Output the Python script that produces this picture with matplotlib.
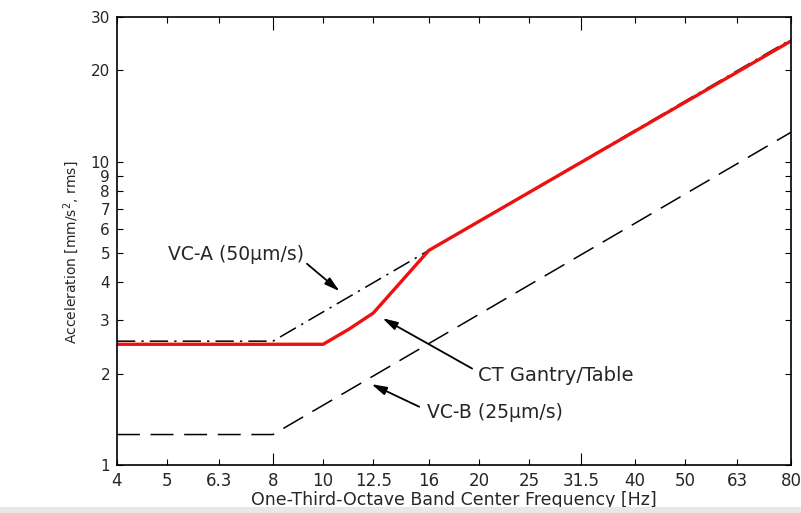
import matplotlib.pyplot as plt
from matplotlib.patches import Rectangle
import numpy as np

plt.rcParams['font.family'] = ['DejaVu Sans']

# one-third octave band centres [Hz]
freq_ticks = [4, 5, 6.3, 8, 10, 12.5, 16, 20, 25, 31.5, 40, 50, 63, 80]
acc_ticks = [1, 2, 3, 4, 5, 6, 7, 8, 9, 10, 20, 30]

# criterion curves (acceleration, mm/s^2 rms)
vca_f = [4, 8, 80]
vca_a = [2.56, 2.56, 25.3]
vcb_f = [4, 8, 80]
vcb_a = [1.26, 1.26, 12.5]
ct_f = [4, 10, 11.2, 12.5, 16, 80]
ct_a = [2.5, 2.5, 2.8, 3.17, 5.1, 25.0]

txt = '#262626'

fig = plt.figure(figsize=(8.01, 5.13), dpi=100)
ax = fig.add_axes([0.146, 0.0936, 0.8415, 0.8733])

ax.plot(vca_f, vca_a, color='k', linestyle=(0, (12, 4, 1.5, 4)), linewidth=1.1)
ax.plot(vcb_f, vcb_a, color='k', linestyle=(0, (15, 7)), linewidth=1.1)
ax.plot(ct_f, ct_a, color='#ee1111', linewidth=2.4, solid_joinstyle='round')

ax.set_xscale('log')
ax.set_yscale('log')
ax.set_xlim(4, 80)
ax.set_ylim(1, 30)
ax.set_xticks(freq_ticks)
ax.set_xticklabels([str(f) for f in freq_ticks])
ax.set_yticks(acc_ticks)
ax.set_yticklabels([str(a) for a in acc_ticks])
ax.minorticks_off()
ax.tick_params(direction='in', top=True, right=True, length=4, width=0.8,
               labelcolor=txt)
ax.tick_params(axis='x', labelsize=12, pad=5)
ax.tick_params(axis='y', labelsize=11, pad=5)
for t in ax.xaxis.get_major_ticks():
    if t.get_loc() in (8, 31.5):
        t.tick1line.set_markersize(9)
        t.tick2line.set_markersize(9)

for s in ax.spines.values():
    s.set_linewidth(1.2)

ax.set_xlabel('One-Third-Octave Band Center Frequency [Hz]', fontsize=12.5,
              color=txt, labelpad=1)
ax.set_ylabel('Acceleration [mm/s$^2$, rms]', fontsize=10, color=txt)
ax.yaxis.set_label_coords(-0.053, 0.475)

arrow = dict(arrowstyle='-|>,head_length=0.9,head_width=0.25', color='k', lw=1.3)
ax.text(5.02, 4.93, 'VC-A (50μm/s)', fontsize=13.5, color=txt, ha='left', va='center')
ax.annotate('', xy=(10.86, 3.69), xytext=(9.22, 4.67), arrowprops=arrow)
ax.text(19.9, 1.966, 'CT Gantry/Table', fontsize=14, color=txt, ha='left', va='center')
ax.annotate('', xy=(12.88, 3.08), xytext=(19.6, 2.058), arrowprops=arrow)
ax.text(15.9, 1.485, 'VC-B (25μm/s)', fontsize=13.5, color=txt, ha='left', va='center')
ax.annotate('', xy=(12.26, 1.864), xytext=(15.5, 1.542), arrowprops=arrow)

fig.add_artist(Rectangle((0, 0), 1, 0.012, transform=fig.transFigure,
                         facecolor='#e8e8e8', edgecolor='none'))

plt.savefig('out.png', dpi=100)
